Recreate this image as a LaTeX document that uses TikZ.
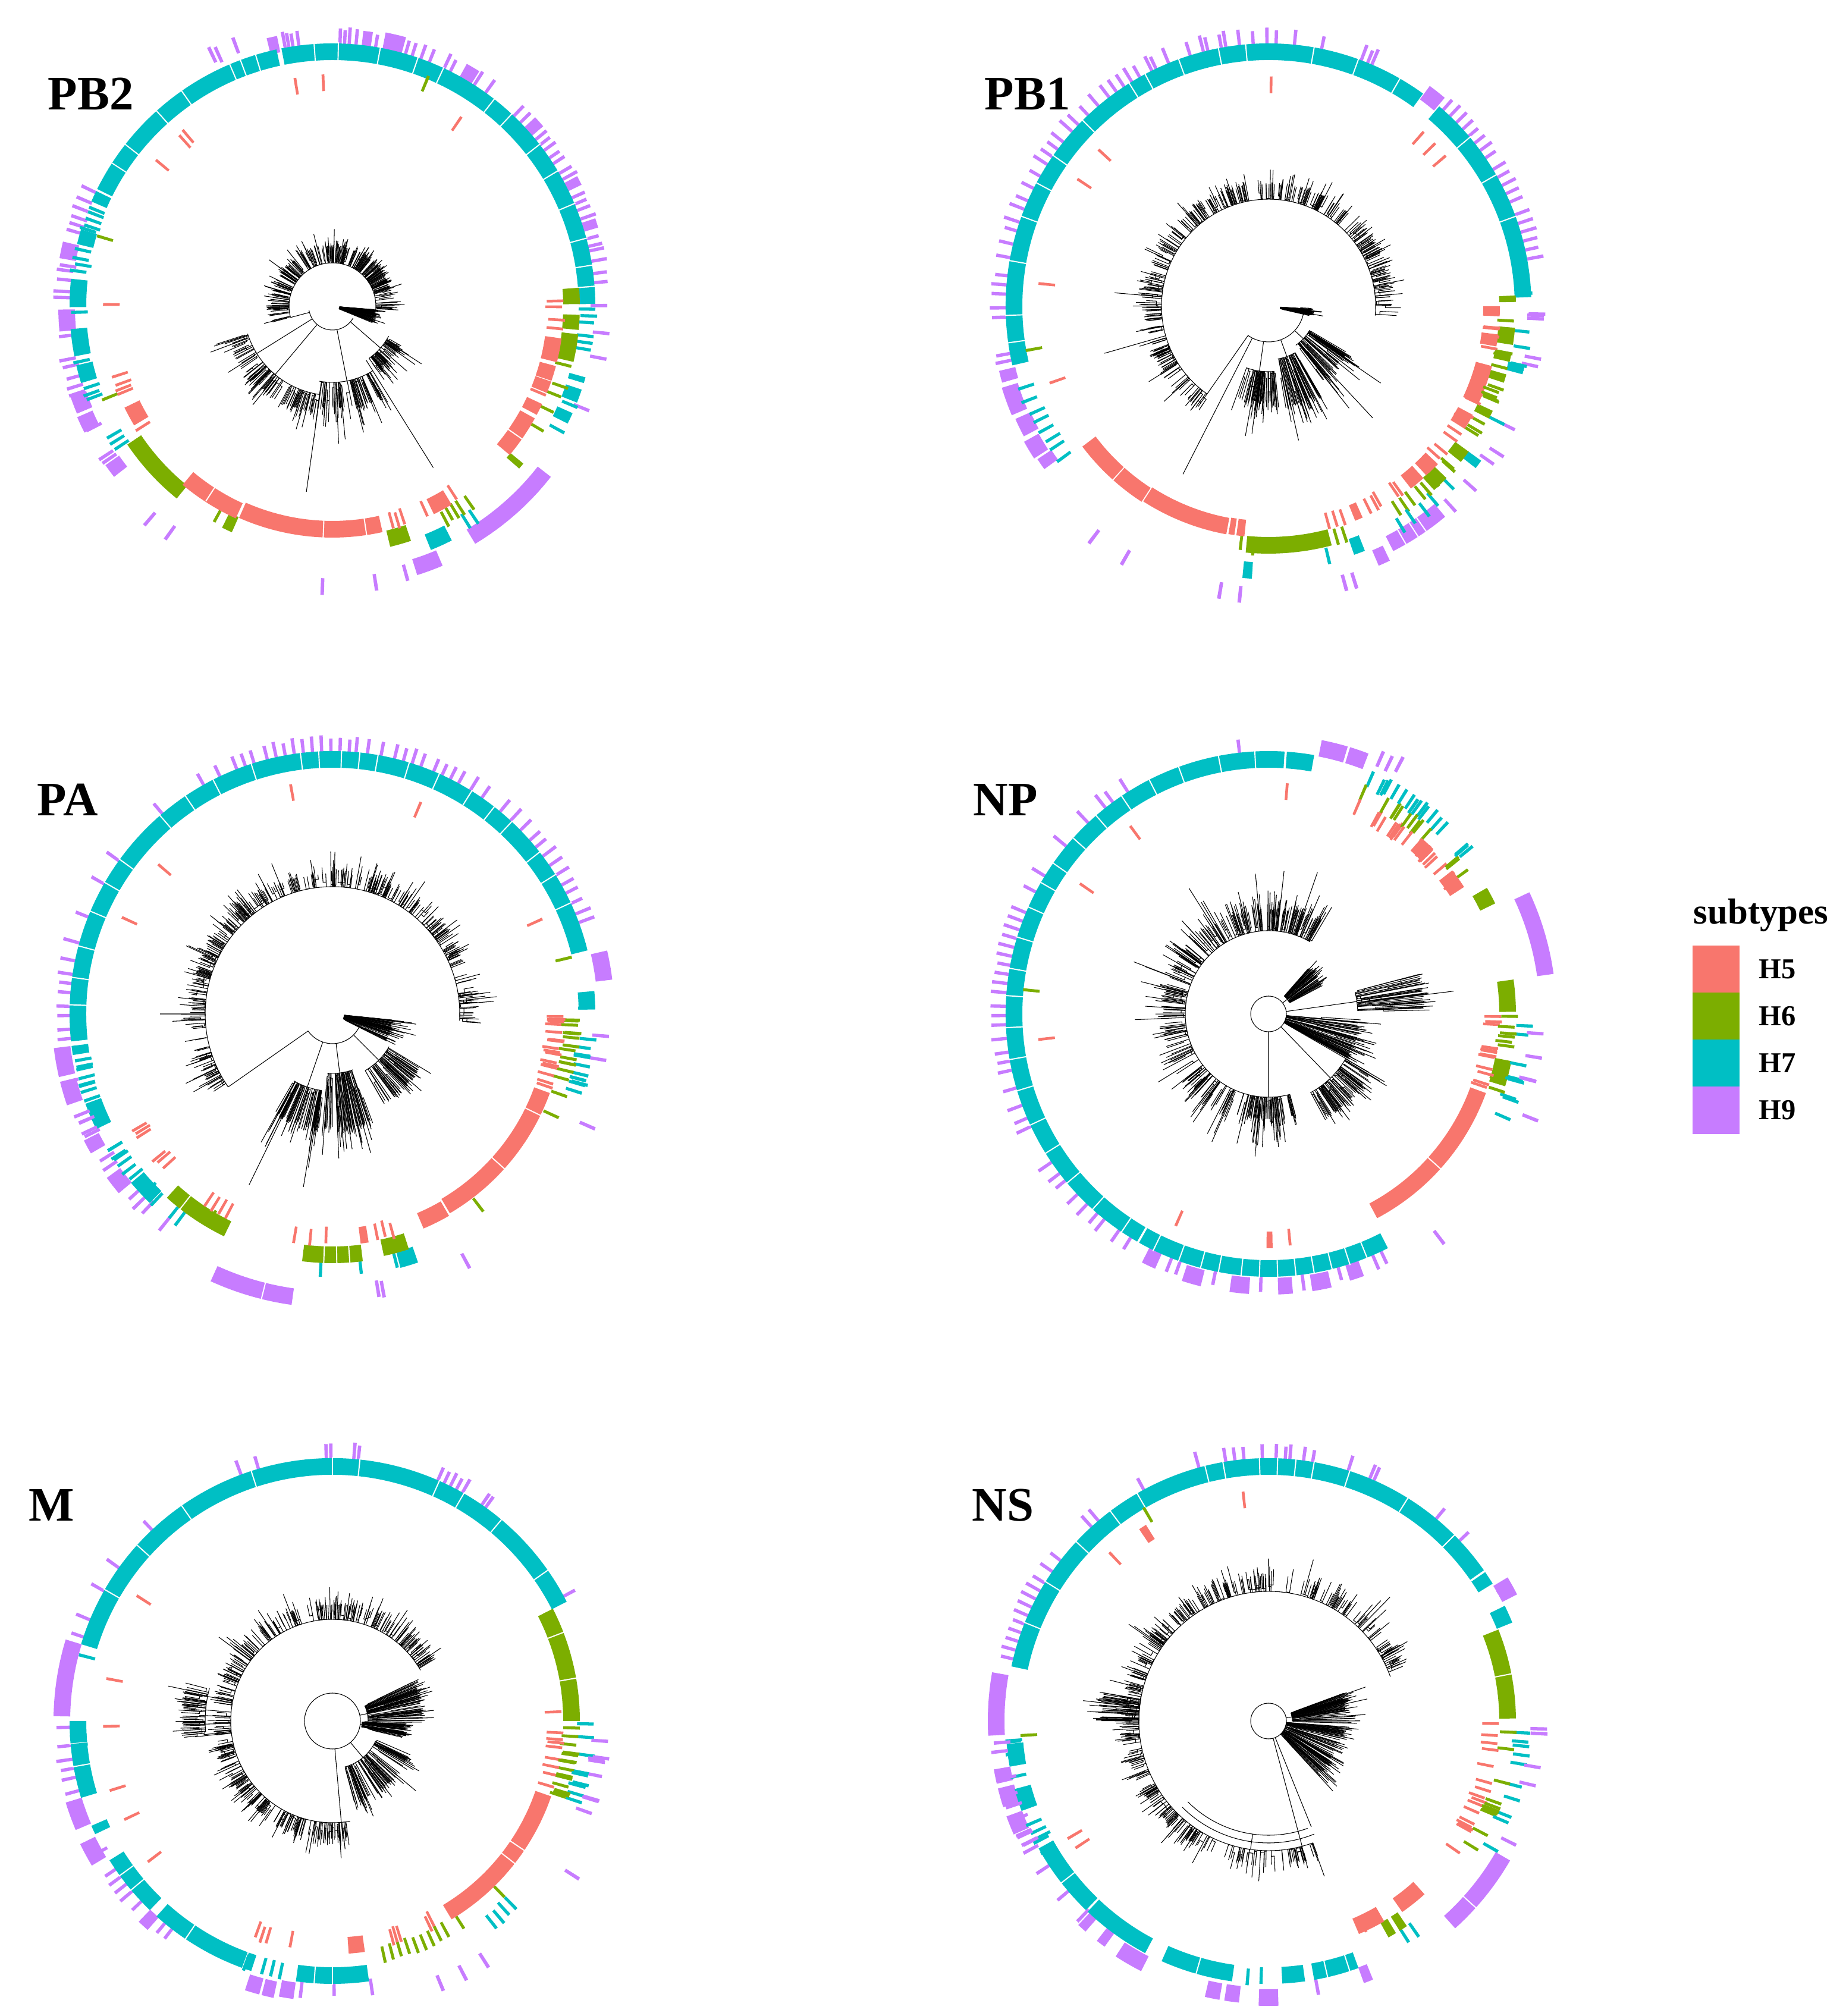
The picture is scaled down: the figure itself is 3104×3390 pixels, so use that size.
\documentclass[tikz,border=0pt]{standalone}
\usepackage{fontspec}
\setmainfont{Liberation Serif}
\definecolor{h5}{HTML}{F8766D}
\definecolor{h6}{HTML}{7CAE00}
\definecolor{h7}{HTML}{00BFC4}
\definecolor{h9}{HTML}{C77CFF}
\pgfmathdeclarerandomlist{all}{{5}{6}{7}{9}}
\pgfmathdeclarerandomlist{pgt}{{5}{6}{7}{5}{6}}
\pgfmathdeclarerandomlist{tp}{{7}{9}{7}{9}{9}}
\newcommand\rbar[4]{%
  \pgfmathsetmacro\myri{#4-14}\pgfmathsetmacro\myro{#4+14}%
  \fill[#3] (#1:\myri) arc[start angle=#1,end angle=#2,radius=\myri] -- (#2:\myro) arc[start angle=#2,end angle=#1,radius=\myro] -- cycle;}
\newcommand\bands[1]{\foreach \qa/\qb/\qc/\qr in {#1}{\rbar{\qa}{\qb}{h\qc}{\qr}}}
\newcommand\ticks[3]{\foreach \qa in {#1}{\pgfmathsetmacro\qb{\qa+0.7}\pgfmathsetmacro\qr{#3+rnd*8-4}\rbar{\qa}{\qb}{h#2}{\qr}}}
\newcommand\seps[2]{\foreach \qa in {#1}{\draw[white,line width=0.55pt] (\qa:#2-16) -- (\qa:#2+16);}}
\newcommand\mixz[4]{\foreach \qk in {1,...,#3}{%
  \pgfmathsetmacro\qa{#1+rnd*(#2-#1)}\pgfmathsetmacro\qb{\qa+0.7}%
  \pgfmathrandomitem{\qc}{#4}%
  \pgfmathsetmacro\qr{(\qc==5?375:(\qc==6?402:(\qc==7?428:452)))+rnd*8-4}%
  \rbar{\qa}{\qb}{h\qc}{\qr}}}
\newcommand\clade[6]{%
  \draw[tr] (#1:#3) arc[start angle=#1,end angle=#2,radius=#3];
  \foreach \qk in {1,...,#6}{%
    \pgfmathsetmacro\qt{#1+rnd*(#2-#1)}%
    \pgfmathsetmacro\qm{#3+rnd*rnd*(#4-#3)*0.9}%
    \pgfmathsetmacro\qw{\qt+(rnd-0.5)*4}%
    \pgfmathsetmacro\qe{#4+rnd*rnd*rnd*(#5-#4)}%
    \pgfmathsetmacro\qf{#4+rnd*rnd*rnd*(#5-#4)*0.8}%
    \draw[tr] (\qt:#3) -- (\qt:\qe);
    \draw[tr] (\qt:\qm) arc[start angle=\qt,end angle=\qw,radius=\qm] -- (\qw:\qf);
  }}
\begin{document}
\begin{tikzpicture}[x=0.01cm,y=0.01cm,tr/.style={line width=0.3pt,black},
  lab/.style={anchor=base west,inner sep=0pt,font=\fontsize{23}{26}\selectfont\bfseries},
  leg/.style={anchor=base west,inner sep=0pt,font=\fontsize{13.8}{16}\selectfont\bfseries}]
\useasboundingbox (0,0) rectangle (3104,3390);

% ===================== PB2 =====================
\begin{scope}[shift={(559,2875)}]
\pgfmathsetseed{101}
\bands{16.5/18.5/9/452,26/28/9/452,40.5/43/9/452,58/61/9/452,74.7/79/9/455,81.6/83.6/9/452,101.6/103.8/9/450,166.5/170/9/452,180.7/185.3/9/447,199/202.8/9/452,203.5/207/9/454,215/218/9/452,287.5/293/9/460,301/322/9/452}
\ticks{4.8,6.8,9.5,11.8,12.8,14.5,19,21,22.5,24,28.5,30,32.5,34,36,37.5,39,44,46,54,57,63,64.5,68,70,72,73.5,80.2,84.5,86,87,88,97,98.3,99.2,100,154,156.5,158.5,160.5,162,163.5,171,172,174,176.5,177.8,186,191,192.5,195,197,198.5,206.5,213,214,359.8,354,348.7,337.5}{9}{452}
\ticks{110,114,115.2,267.6,278.5,285,229,234}{9}{468}
\bands{4.5/101.2/7/428,102.3/153.5/7/428,154/156.5/7/428,163/166.3/7/428,174/180.2/7/428,185/191/7/428,193/197/7/428,292/297/7/428,343/344.3/7/428,338.5/341.5/7/428,333.5/336/7/428,0.5/4/7/428}
\seps{9,15,23,31,38,47,52,65,71,79.5,88.7,94,107,110.5,113,125,132,142,147}{428}
\ticks{157.5,158.5,160,161.5,162.3,167,169,170.3,171.8,181,192,198,199.5,200.5,210,211.5,213,301.5,303.5,1,2.5,3.5,356,357.5,359,350,351.5,353,331,337.2}{7}{428}
\bands{214/231/6/402,243.5/246/6/402,283.5/288.5/6/402,0.5/4.3/6/402,354.5/358/6/402,347/353.5/6/402,319/320.5/6/402}
\ticks{67,163,201.8,240.9,297.5,299,300.5,302,304.5,345.5,340.4,338,334,329}{6}{402}
\bands{206/211/5/375,230/245.5/5/378,246.2/282.5/5/375,296/301/5/375,320/331/5/375,332/335/5/375,338/341/5/375,341.2/345/5/375,346/352/5/375}
\seps{237,267.7,278.5,325}{375}
\ticks{55.4,92,99,130,131.5,140,179.2,197.5,199.7,201,202,212,285,286.5,288,294,302.4,359.5,1,356.2,354,337}{5}{375}
% tree
\draw[tr] (190:40) arc[start angle=190,end angle=330,radius=40];
\draw[tr] (195:40)--(195:73) (-41:40)--(-41:107) (-79:40)--(-79:128) (230:40)--(230:150) (-14:12)--(-14:40);
\draw[tr] (212:40)--(212:180) (-58:107)--(-58:320) (-98:128)--(-98:315);
\clade{-5}{195}{73}{100}{140}{150}
\clade{-24}{-4}{12}{70}{107}{40}
\clade{-55}{-28}{107}{130}{195}{35}
\clade{-100}{-58}{128}{170}{280}{35}
\clade{198}{262}{150}{180}{260}{50}
\end{scope}

% ===================== PB1 =====================
\begin{scope}[shift={(2133,2875)}]
\pgfmathsetseed{202}
\bands{49.8/53.8/9/445,193.5/196/9/452,197/203/9/455,204/208/9/452,209/213/9/456,213.5/216/9/452,293/295.5/9/460,297/310/9/448}
\seps{300,303,305}{448}
\ticks{84,78,66.5,67.5,69,88,90,93,96,99,100,103,104,107,112,115,116,119,121,123,125,127,130,133,136,138,141,143,145,147,150,153,156,158,161,163,166,169,173,175,177,180,182,190,191.5,10,12,14,16,18,20,23,25,27,29,31,34,36,38,40,42,44,46,48,358,357,347,333,327,318,312}{9}{452}
\ticks{232.5,240,260,264,285,287}{9}{485}
\bands{2/49.5/7/428,54/193/7/428,289/291.5/7/428,264.5/266.5/7/445,345/347/7/428,322/324/7/428}
\seps{20,30,40,60,70,80,95,101,110,118,122,135,145,152,160,170,182,188}{428}
\ticks{2.5,354,346.5,333,315,310,283,216,198,201,204,206,208.5,211,213}{7}{428}
\bands{264.7/284.8/6/402,1/2.5/6/402,351/355/6/402,347/349/6/402,342/344/6/402,333/335/6/402,321/324/6/402,312/316/6/402}
\ticks{190,263,266,345,340,337,331,328,318,306,304,302,286,288}{6}{402}
\bands{217/228/5/378,228.3/237/5/378,237.3/259.5/5/376,260/261.5/5/375,262/264/5/375,357.5/360/5/375,350/353/5/375,335/345/5/375,328/332/5/375,313/317/5/375,308/312/5/375,292/294/5/375}
\ticks{89,48,44,40,137,146,174,199,285,287,289,296,298,299,352,354,349,337,326,324,320,318,305,304}{5}{375}
\mixz{300}{358}{25}{all}
% tree
\draw[tr] (235:60) arc[start angle=235,end angle=355,radius=60];
\draw[tr] (235:60)--(235:180) (-8:20)--(-8:60) (262:60)--(262:110) (290:60)--(290:90) (317:60)--(317:80);
\draw[tr] (243:60)--(243:317) (-47:80)--(-47:257) (-39:80)--(-39:197) (196:180)--(196:287) (175:180)--(175:260);
\clade{-5}{235}{180}{205}{255}{200}
\clade{-12}{-4}{20}{70}{100}{30}
\clade{250}{275}{110}{160}{260}{35}
\clade{280}{300}{90}{170}{260}{30}
\clade{305}{330}{80}{150}{260}{30}
\end{scope}

% ===================== PA =====================
\begin{scope}[shift={(559,1685)}]
\pgfmathsetseed{303}
\bands{7/13/9/460,187/193/9/458,194/199/9/458,207/210/9/455,216/220/9/455,245.5/262/9/480}
\seps{256}{480}
\ticks{20,22,24.5,27,29,31.5,34,36.5,39,41,44,47,50,55,58,61,63,65,67,70,72,74,76,79,82,84.5,86,88,90,92,94,96,98,100,102,104,107,109,111,115,119,130,144,150,158,164,168,171,173,175,178,180,183,185,203,206,212,214,222,224,226,231,355,350}{9}{452}
\ticks{280,279,336,298}{9}{470}
\bands{14/186/7/428,187/189/7/428,200/206/7/428,220/226/7/428,1/5/7/428,285/289/7/428}
\seps{25,32,38,47,52,58,66,73,80,84,88,93,97,108,117,124,131,144,150,157,165,172,178}{428}
\ticks{1,354,352,350,348,346,344,342,190,192,194,197,199,211,213,215,217,231,233,267,276,284}{7}{428}
\mixz{186}{228}{12}{tp}
\bands{228/244/6/402,263/277/6/405,282/288/6/402}
\seps{232,268,271,274}{403}
\ticks{335,307,13,236,239,358,355,352,349,346,344}{6}{402}
\bands{293/300/5/378,300.5/340/5/375,277/279/5/375}
\seps{318,334}{375}
\ticks{100,67,139,155,24,210,211,212,219,220,222,236,238,240,242,260,264,268,281,283,285,359,357,355,353,350,346,344,342,341}{5}{375}
\mixz{340}{360}{20}{pgt}
% tree
\draw[tr] (215:50) arc[start angle=215,end angle=345,radius=50];
\draw[tr] (215:50)--(215:214) (-15:20)--(-15:50) (251:50)--(251:130) (277:50)--(277:100) (315:50)--(315:110);
\draw[tr] (244:130)--(244:320) (180:214)--(180:290);
\clade{-3}{215}{214}{235}{300}{210}
\clade{-25}{-5}{20}{100}{170}{35}
\clade{240}{262}{130}{190}{320}{35}
\clade{265}{290}{100}{190}{300}{35}
\clade{300}{330}{110}{170}{220}{30}
\end{scope}

% ===================== NP =====================
\begin{scope}[shift={(2133,1685)}]
\pgfmathsetseed{404}
\bands{69/73/9/455,73.5/79/9/455,8/25/9/470,243/246/9/455,252/256/9/458,262/266/9/458,272/275/9/458,279/283/9/458,287/290/9/455}
\ticks{96,122,126,128,133,140,148,152,157,159,161,163,165,167,169,171,173,175,178,180,182,185,188,190,192,196,200,203,205,214,217,219,223,226,229,231,235,238,248,250,258,268,277,285,293,295}{9}{452}
\ticks{62,64,66,338,307}{9}{470}
\bands{80/86/7/428,86.5/240/7/428,240.5/297/7/428}
\seps{93,101,110,117,124,131,138,145,150,156,163,170,176,183,190,197,205,212,220,228,236,244,250,255,259,264,268,272,276,280,284,288,292}{428}
\mixz{35}{68}{45}{pgt}
\ticks{357,355,345,344.5,336,60,62,58,56,54,52,50}{7}{428}
\bands{26/30/6/410,0.5/8/6/402,343/349/6/402}
\ticks{174,353,355,352}{6}{402}
\bands{45/49/5/378,33/38/5/378,298/340/5/375,269.5/271/5/380}
\seps{318}{375}
\ticks{85,126,145,186,246,275,359,357,351,349,341}{5}{375}
\mixz{340}{360}{20}{all}
% tree
\draw[tr] (0,0) circle[radius=30];
\draw[tr] (270:30)--(270:140) (38:30)--(38:40) (8:30)--(8:150) (-46:30)--(-46:150);
\clade{60}{285}{140}{175}{280}{190}
\clade{28}{48}{40}{100}{150}{30}
\clade{2}{14}{150}{260}{325}{20}
\clade{-30}{-5}{30}{150}{250}{35}
\clade{-62}{-30}{150}{195}{255}{40}
\end{scope}

% ===================== M =====================
\begin{scope}[shift={(559,496)}]
\pgfmathsetseed{505}
\bands{163/179/9/455,197/203/9/455,206/211/9/458,226/228.5/9/455,252/255/9/462,255.5/258/9/462,259/262/9/458}
\ticks{90,91,84,85,60,61.5,63,64.5,66,54,55,28,110,106,133,144,150,157,161,181,185,188,190,192,195,209,214,216,218,220,223,230,232,263,270,278,351,348,343,340}{9}{452}
\ticks{292,297,302,327}{9}{480}
\bands{27/163/7/428,180/197/7/428,203.5/205.5/7/428,212/226/7/428,228/252/7/428,262/278/7/428}
\seps{35,50,60,66,84,90,108,125,138,150,185,190,216,220,236,250,266,270}{428}
\ticks{359,356,352,348,345,343,341.5,308,310,312,314,250,254,256,258,165,183,185}{7}{428}
\bands{0/27/6/402}
\seps{10,21}{402}
\ticks{358,356,354,352,350,348,346,344,342,314,302,298,296,294,292,290,288,286,284,282}{6}{402}
\bands{301/341/5/375,274/278/5/378}
\seps{322,326}{375}
\ticks{250,251.5,253,259,217,205,197,181,169,147,2,355,353,350,348,346,343,285,286,287,295,296}{5}{375}
\mixz{340}{360}{15}{all}
% tree
\draw[tr] (0,0) circle[radius=47];
\draw[tr] (275:47)--(275:171) (175:171)--(175:214) (12:47)--(12:60) (-7:47)--(-7:50) (-50:47)--(-50:80) (260:171)--(260:227);
\clade{30}{280}{171}{195}{250}{210}
\clade{165}{185}{214}{250}{300}{25}
\clade{0}{25}{60}{150}{195}{35}
\clade{-12}{-2}{50}{120}{175}{25}
\clade{-75}{-25}{80}{140}{195}{40}
\end{scope}

% ===================== NS =====================
\begin{scope}[shift={(2133,496)}]
\pgfmathsetseed{606}
\bands{170/183/9/458,190/193/9/455,194/198/9/455,200/204/9/455,227/229/9/455,232/234/9/455,237/243/9/458,257/260/9/462,261/264/9/462,268/272/9/465,290/292/9/455,312/330/9/455,27/31/9/455}
\seps{318}{455}
\ticks{105,118,130,132,142,145,148,150,152,154,156,158,160,162,164,166,80,82,85,86,88,91,95,97,99,72,66,67,50,43,29,208,213,220,226,280,357,358,346,333}{9}{452}
\bands{35/168/7/428,185/190/7/428,195/200/7/428,209/226/7/428,226.5/242/7/428,246/262/7/428,273/278/7/428,280/290/7/428,22/26/7/428,31.5/34.5/7/428}
\seps{45,58,72,80,84,88,92,100,104,120,127,137,148,158,218,254,283,288}{428}
\ticks{302,304.5,357,355,352,350,345,342,338,330,265,268,184,187,192,203,205,206.5}{7}{428}
\mixz{183}{210}{14}{tp}
\bands{0.6/21.7/6/402,299/301/6/402,302/304/6/402}
\seps{11}{402}
\ticks{120,183,357,353,345,340,338,328}{6}{402}
\bands{293/300/5/375,305/312/5/378,122/124/5/375}
\ticks{96,133,210,213,325,359,356,354,344,342,340,338,336,333,331,294.5}{5}{375}
\mixz{330}{360}{15}{all}
% tree
\draw[tr] (0,0) circle[radius=30];
\draw[tr] (285:30)--(285:218) (10:30)--(10:40);
\draw[tr] (225:192) arc[start angle=225,end angle=290,radius=192] (225:205) arc[start angle=225,end angle=292,radius=205];
\draw[tr] (262:192)--(262:218) (292:192)--(292:30);
\clade{20}{290}{218}{240}{300}{220}
\clade{170}{180}{218}{280}{320}{18}
\clade{0}{20}{40}{130}{190}{35}
\clade{-50}{-5}{30}{120}{205}{50}
\end{scope}

% ===================== labels =====================
\node[lab] (tPB2) at (80,3205) {PB2};
\node[lab] (tPB1) at (1655,3205) {PB1};
\node[lab] (tPA) at (62,2018) {PA};
\node[lab] (tNP) at (1636,2018) {NP};
\node[lab] (tM) at (48,832) {M};
\node[lab] (tNS) at (1634,832) {NS};

% ===================== legend =====================
\node[anchor=base west,inner sep=0pt,font=\fontsize{17.3}{20}\selectfont\bfseries] (ltitle) at (2847,1836) {subtypes};
\fill[h5] (2846,1721) rectangle (2925,1800);
\fill[h6] (2846,1642) rectangle (2925,1721);
\fill[h7] (2846,1563) rectangle (2925,1642);
\fill[h9] (2846,1483) rectangle (2925,1563);
\node[leg] (l5) at (2957,1744) {H5};
\node[leg] (l6) at (2957,1665) {H6};
\node[leg] (l7) at (2957,1586) {H7};
\node[leg] (l9) at (2957,1507) {H9};
\end{tikzpicture}
\end{document}
